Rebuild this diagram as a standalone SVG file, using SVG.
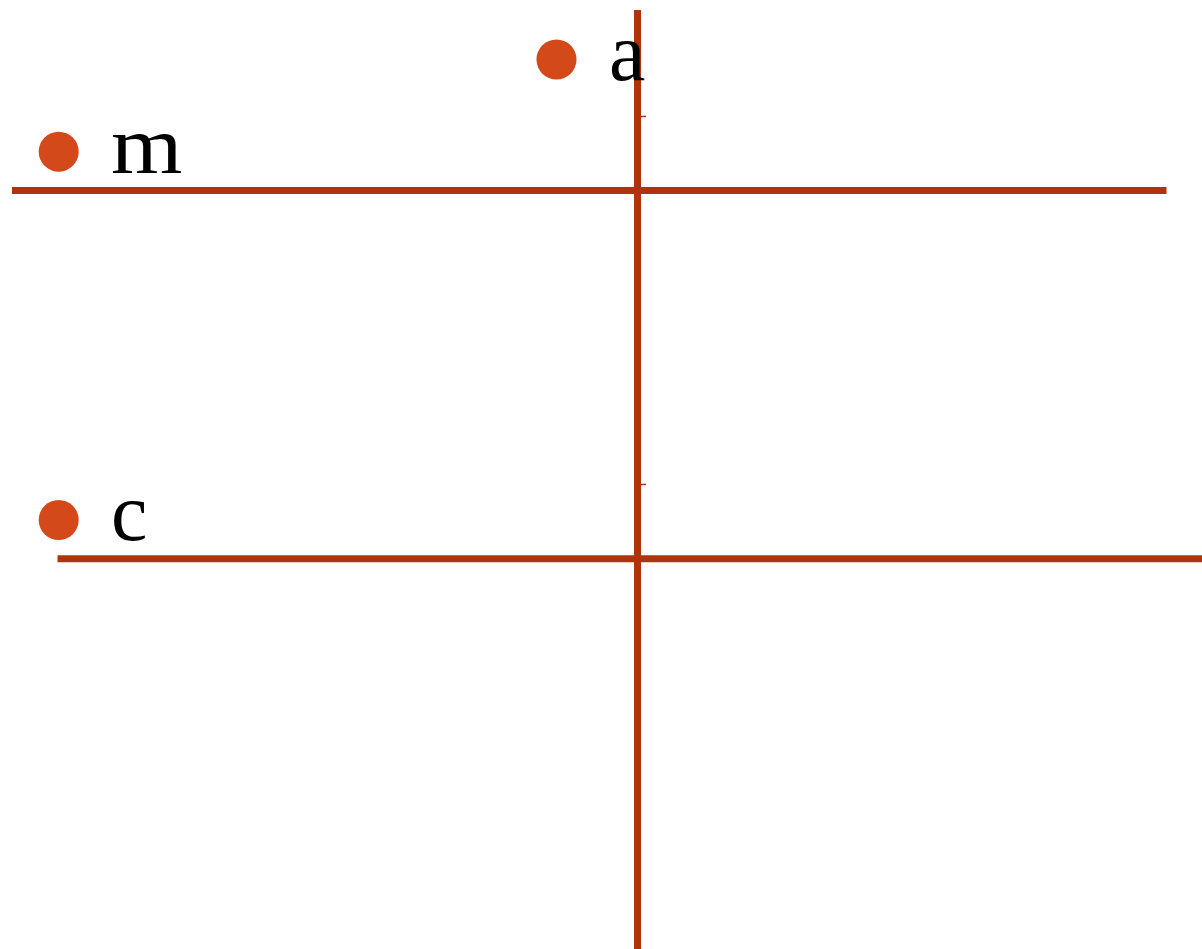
<svg xmlns="http://www.w3.org/2000/svg" width="1202" height="949" viewBox="0 0 1202 949">
<style>
.ln{stroke:#AF340D;stroke-width:7;fill:none}
.tk{stroke:#AF340D;stroke-width:1.5}
.dot{fill:#D4491A}
.lb{font-family:"Liberation Serif","DejaVu Serif",serif;font-size:82px;fill:#000}
</style>
<rect width="1202" height="949" fill="#fff"/>
<g id="connectors">
<line class="ln" x1="637.5" y1="10" x2="637.5" y2="949"/>
<line class="ln" x1="12" y1="190.5" x2="1166.5" y2="190.5"/>
<line class="ln" x1="57.5" y1="558.8" x2="1202" y2="558.8"/>
<line class="tk" x1="640" y1="116.5" x2="646" y2="116.5"/>
<line class="tk" x1="640" y1="484.5" x2="646" y2="484.5"/>
</g>
<g id="node-a">
<circle class="dot" cx="556.5" cy="59.5" r="20"/>
<text class="lb" x="609" y="80">a</text>
</g>
<g id="node-m">
<circle class="dot" cx="58.7" cy="151.7" r="20"/>
<text class="lb" x="111" y="172.7" transform="translate(111 0) scale(1.12 1) translate(-111 0)">m</text>
</g>
<g id="node-c">
<circle class="dot" cx="58.7" cy="520" r="20"/>
<text class="lb" x="111" y="540">c</text>
</g>
</svg>
